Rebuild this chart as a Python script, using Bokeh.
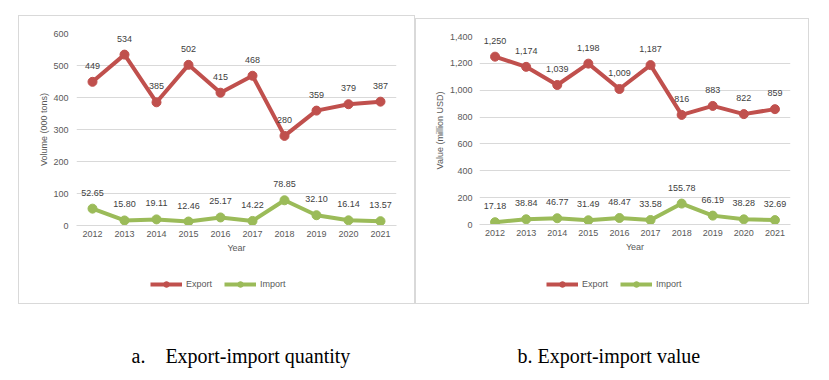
from bokeh.plotting import figure
from bokeh.layouts import column, row
from bokeh.models import (ColumnDataSource, FactorRange, Range1d, Legend, LegendItem,
                          SingleIntervalTicker, NumeralTickFormatter, Spacer)
from bokeh.core.properties import value
from bokeh.embed import file_html
from bokeh.resources import INLINE

# ---------------- data ----------------
years = ["2012", "2013", "2014", "2015", "2016", "2017", "2018", "2019", "2020", "2021"]

qty_export = [449, 534, 385, 502, 415, 468, 280, 359, 379, 387]
qty_import = [52.65, 15.80, 19.11, 12.46, 25.17, 14.22, 78.85, 32.10, 16.14, 13.57]

val_export = [1250, 1174, 1039, 1198, 1009, 1187, 816, 883, 822, 859]
val_import = [17.18, 38.84, 46.77, 31.49, 48.47, 33.58, 155.78, 66.19, 38.28, 32.69]

qty_axis_max = 600
qty_tick_step = 100
val_axis_max = 1400
val_tick_step = 200

qty_ytitle = "Volume (000 tons)"
val_ytitle = "Value (million USD)"
xtitle = "Year"
series_names = ["Export", "Import"]
captions = ["a.\u00a0\u00a0\u00a0\u00a0Export-import quantity", "b. Export-import value"]

# ---------------- style ----------------
RED = "#C0504D"
GREEN = "#9BBB59"
GRID = "#d9d9d9"
AXIS_TEXT = "#595959"
LABEL_TEXT = "#404040"
FONT = "Liberation Sans"
BORDER = {"border": "1px solid #d9d9d9"}


def make_chart(export, imp, exp_labels, imp_labels, ymax, step, ytitle, fmt,
               width, height, mleft, mbottom, ylab_standoff, ytick_standoff):
    p = figure(x_range=FactorRange(*years), y_range=Range1d(0, ymax),
               width=width, height=height, title=None,
               output_backend="svg", toolbar_location=None,
               min_border_left=mleft, min_border_right=18,
               min_border_top=17, min_border_bottom=mbottom)
    p.outline_line_color = None

    src_e = ColumnDataSource(dict(x=years, y=export, t=exp_labels))
    src_i = ColumnDataSource(dict(x=years, y=imp, t=imp_labels))

    p.line("x", "y", source=src_e, line_color=RED, line_width=4, line_join="round")
    p.scatter("x", "y", source=src_e, size=9, fill_color=RED, line_color=RED)
    p.line("x", "y", source=src_i, line_color=GREEN, line_width=4, line_join="round")
    p.scatter("x", "y", source=src_i, size=9, fill_color=GREEN, line_color=GREEN)

    for src in (src_e, src_i):
        p.text("x", "y", text="t", source=src, text_align="center", text_baseline="middle",
               y_offset=-16, text_font=value(FONT), text_font_size="9px",
               text_color=LABEL_TEXT)

    p.yaxis.ticker = SingleIntervalTicker(interval=step)
    if fmt:
        p.yaxis.formatter = NumeralTickFormatter(format=fmt)
    for ax in (p.xaxis[0], p.yaxis[0]):
        ax.major_tick_line_color = None
        ax.minor_tick_line_color = None
        ax.major_tick_out = 0
        ax.major_tick_in = 0
        ax.minor_tick_out = 0
        ax.minor_tick_in = 0
        ax.major_label_text_font = FONT
        ax.major_label_text_font_size = "9px"
        ax.major_label_text_color = AXIS_TEXT
        ax.axis_label_text_font = FONT
        ax.axis_label_text_font_size = "9px"
        ax.axis_label_text_font_style = "normal"
        ax.axis_label_text_color = AXIS_TEXT
    p.yaxis.axis_line_color = None
    p.yaxis.axis_label = ytitle
    p.yaxis.major_label_standoff = ytick_standoff
    p.yaxis.axis_label_standoff = ylab_standoff
    p.xaxis.axis_line_color = GRID
    p.xaxis.axis_label = xtitle
    p.xaxis.major_label_standoff = 5
    p.xaxis.axis_label_standoff = 3

    p.xgrid.grid_line_color = None
    p.ygrid.grid_line_color = GRID
    return p


def make_legend(export, imp, width, height, lx, ly):
    # same series drawn outside the visible y-range: only the legend shows
    lg = figure(width=width, height=height, title=None, x_axis_type=None, y_axis_type=None,
                x_range=FactorRange(*years), y_range=Range1d(-2, -1),
                output_backend="svg", toolbar_location=None, min_border=0)
    lg.outline_line_color = None
    items = []
    for name, vals, color in zip(series_names, (export, imp), (RED, GREEN)):
        src = ColumnDataSource(dict(x=years, y=vals))
        r1 = lg.line("x", "y", source=src, line_color=color, line_width=4)
        r2 = lg.scatter("x", "y", source=src, size=7, fill_color=color, line_color=color)
        items.append(LegendItem(label=name, renderers=[r1, r2]))
    legend = Legend(items=items, orientation="horizontal", location=(lx, ly),
                    glyph_width=32, glyph_height=14, label_height=14,
                    label_text_font=FONT, label_text_font_size="9px",
                    label_text_color=AXIS_TEXT, label_standoff=4, spacing=12,
                    padding=0, margin=0, border_line_color=None,
                    background_fill_alpha=0)
    lg.add_layout(legend)
    return lg


p1 = make_chart(qty_export, qty_import,
                [str(v) for v in qty_export], [f"{v:.2f}" for v in qty_import],
                qty_axis_max, qty_tick_step, qty_ytitle, None,
                395, 246, 57, 37, 1, 8)
l1 = make_legend(qty_export, qty_import, 395, 41, 74, 12)
panel1 = column(p1, l1, styles=BORDER)

p2 = make_chart(val_export, val_import,
                [f"{v:,}" for v in val_export], [f"{v:.2f}" for v in val_import],
                val_axis_max, val_tick_step, val_ytitle, "0,0",
                392, 243, 63, 38, 2, 7)
l2 = make_legend(val_export, val_import, 392, 41, 67, 12)
panel2 = column(p2, l2, styles=BORDER)

cap = figure(width=813, height=64, x_range=Range1d(0, 813), y_range=Range1d(0, 1),
             output_backend="svg", toolbar_location=None, title=None,
             x_axis_type=None, y_axis_type=None, min_border=0)
cap.grid.visible = False
cap.outline_line_color = None
cap_src = ColumnDataSource(dict(x=[131, 517], y=[0.19, 0.19], t=captions))
cap.text("x", "y", text="t", source=cap_src, text_align="left", text_baseline="middle",
         text_font=value("Liberation Serif"), text_font_size="20px", text_color="black")

layout = column(
    Spacer(width=10, height=15),
    row(Spacer(width=18, height=10), panel1, column(Spacer(width=10, height=3), panel2)),
    cap,
)

open("out.html", "w").write(file_html(layout, INLINE))
